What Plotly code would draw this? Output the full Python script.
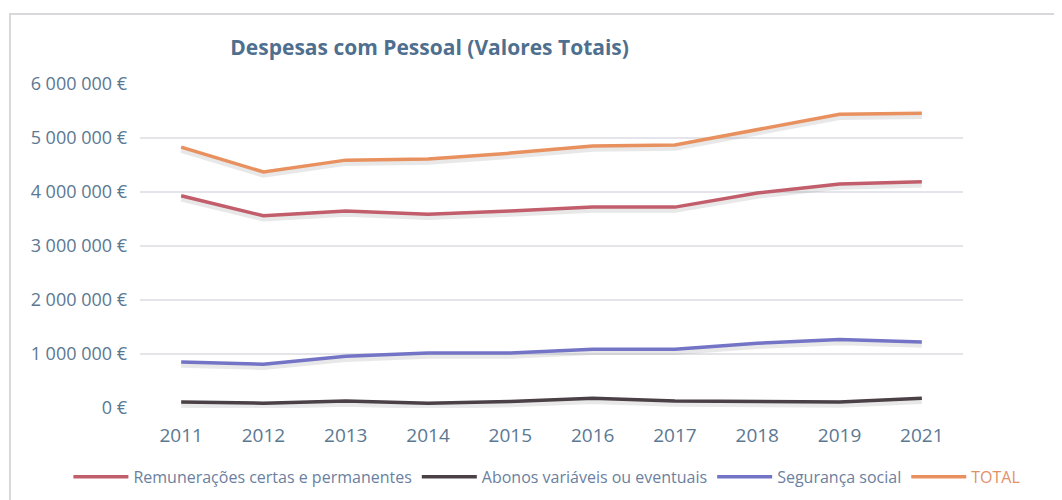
import plotly.graph_objects as go

anos = ["2011", "2012", "2013", "2014", "2015", "2016", "2017", "2018", "2019", "2021"]
remuneracoes = [3930000, 3560000, 3650000, 3590000, 3650000, 3720000, 3720000, 3980000, 4150000, 4190000]
abonos = [110000, 90000, 130000, 90000, 120000, 180000, 130000, 120000, 110000, 180000]
seguranca = [850000, 810000, 960000, 1020000, 1020000, 1090000, 1090000, 1200000, 1270000, 1220000]
total = [4830000, 4370000, 4590000, 4610000, 4720000, 4850000, 4870000, 5150000, 5440000, 5460000]
y_ticks = [0, 1000000, 2000000, 3000000, 4000000, 5000000, 6000000]
y_labels = ["0 €", "1 000 000 €", "2 000 000 €", "3 000 000 €", "4 000 000 €", "5 000 000 €", "6 000 000 €"]

series = [
    ("Remunerações certas e permanentes", remuneracoes, "#C25E6C"),
    ("Abonos variáveis ou eventuais", abonos, "#4A4045"),
    ("Segurança social", seguranca, "#7474C6"),
    ("<span style='color:#E2906A'>TOTAL</span>", total, "#E8915F"),
]

txt = "#5B7893"
fig = go.Figure()
# soft drop shadow under each line (Excel-style), offset slightly downward
for name, vals, col in series:
    fig.add_trace(go.Scatter(x=anos, y=[v - 60000 for v in vals], mode="lines",
                             showlegend=False, hoverinfo="skip",
                             line=dict(color="rgba(150,150,150,0.22)", width=5)))
for name, vals, col in series:
    fig.add_trace(go.Scatter(x=anos, y=vals, name=name, mode="lines",
                             line=dict(color=col, width=3.5)))

fig.update_layout(
    width=1062, height=500,
    paper_bgcolor="white", plot_bgcolor="white",
    margin=dict(l=132, r=107, t=76, b=100),
    font=dict(family="Open Sans, Liberation Sans, sans-serif", color=txt),
    title=dict(text="<b>Despesas com Pessoal (Valores Totais)</b>",
               x=0.397, xanchor="center", y=0.92, yanchor="middle",
               font=dict(size=21, color="#4F6F8F")),
    showlegend=True,
    legend=dict(orientation="h", x=-0.087, xanchor="left",
                y=-0.16, yanchor="top",
                font=dict(size=16, color="#6B7FA0"), itemwidth=55,
                traceorder="normal"),
    xaxis=dict(type="category", range=[-0.5, 9.5], showgrid=False, showline=False,
               ticks="", ticklabelstandoff=14, tickfont=dict(size=19, color=txt)),
    yaxis=dict(range=[0, 6000000], tickvals=y_ticks, ticktext=y_labels,
               showgrid=True, gridcolor="#E3E5EA", gridwidth=1.5, zeroline=False,
               ticks="", ticklabelstandoff=12, tickfont=dict(size=18, color=txt)),
    shapes=[dict(type="rect", xref="paper", yref="paper",
                 x0=-0.158, x1=1.128, y0=-0.35, y1=1.216,
                 line=dict(color="#D8D8DC", width=2), fillcolor="rgba(0,0,0,0)")],
)

fig.write_html("out.html")
